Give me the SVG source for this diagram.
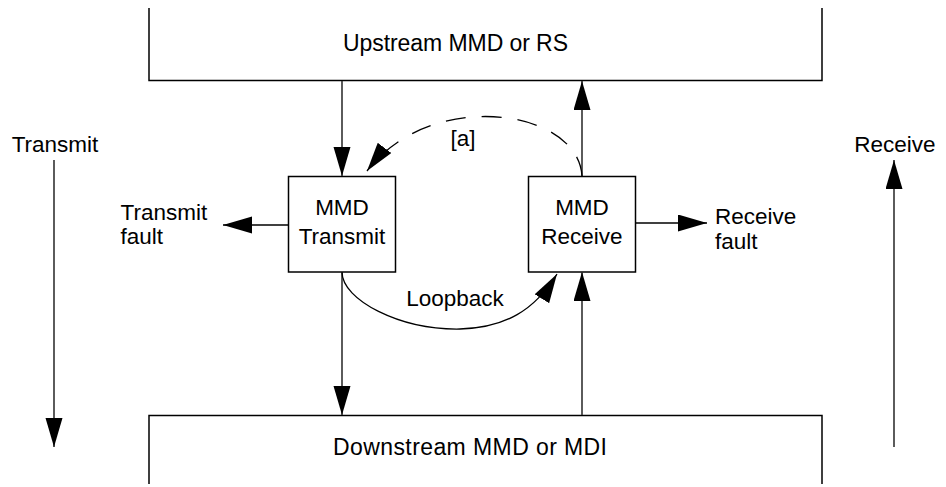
<svg xmlns="http://www.w3.org/2000/svg" width="946" height="487" viewBox="0 0 946 487">
<style>
  text { font-family: "Liberation Sans", Arial, Helvetica, sans-serif; font-size: 22.5px; fill: #000; }
  .big { font-size: 23px; }
  .box { fill: #fff; stroke: #000; stroke-width: 1.5; }
  .open { fill: none; stroke: #000; stroke-width: 1.5; }
  .conn { fill: none; stroke: #333; stroke-width: 1.6; }
  .thin { fill: none; stroke: #000; stroke-width: 1.3; }
  .dash { fill: none; stroke: #000; stroke-width: 1.3; stroke-dasharray: 20 16; }
</style>
<defs>
  <marker id="arr" markerUnits="userSpaceOnUse" markerWidth="30" markerHeight="18" refX="29" refY="8.5" orient="auto">
    <path d="M0,0 L29,8.5 L0,17 z" fill="#000"/>
  </marker>
</defs>

<g id="upstream">
  <path class="open" d="M149,8 L149,80.5 L822,80.5 L822,8"/>
  <text class="big" x="343" y="51" textLength="225">Upstream MMD or RS</text>
</g>

<g id="downstream">
  <path class="open" d="M149,484 L149,415.5 L822,415.5 L822,484"/>
  <text class="big" x="333" y="455" textLength="274">Downstream MMD or MDI</text>
</g>

<g id="mmd-transmit">
  <rect class="box" x="288.5" y="176.5" width="107" height="95.5"/>
  <text x="342" y="215" text-anchor="middle">MMD</text>
  <text x="342" y="243.5" text-anchor="middle">Transmit</text>
</g>

<g id="mmd-receive">
  <rect class="box" x="528.5" y="176.5" width="107" height="95.5"/>
  <text x="582" y="215" text-anchor="middle">MMD</text>
  <text x="582" y="243.5" text-anchor="middle">Receive</text>
</g>

<g id="transmit-fault">
  <text x="120.5" y="219.5">Transmit</text>
  <text x="120.5" y="244">fault</text>
</g>

<g id="receive-fault">
  <text x="715" y="224">Receive</text>
  <text x="715" y="248.5">fault</text>
</g>

<g id="transmit-direction">
  <text x="55" y="152" text-anchor="middle">Transmit</text>
</g>

<g id="receive-direction">
  <text x="895" y="152" text-anchor="middle">Receive</text>
</g>

<g id="loopback-label">
  <text x="455" y="305.5" text-anchor="middle">Loopback</text>
</g>

<g id="a-label">
  <text x="463" y="146" text-anchor="middle">[a]</text>
</g>

<g id="connectors">
  <path class="conn" d="M342,81 L342,176" marker-end="url(#arr)"/>
  <path class="conn" d="M582,176 L582,81" marker-end="url(#arr)"/>
  <path class="thin" d="M288,225 L223,225" marker-end="url(#arr)"/>
  <path class="thin" d="M636,223 L707,223" marker-end="url(#arr)"/>
  <path class="conn" d="M342,272 L342,415" marker-end="url(#arr)"/>
  <path class="conn" d="M582,415 L582,272" marker-end="url(#arr)"/>
  <path class="thin" d="M342,272 C342,300 400,330 460,329 C505,328 535,310 557,274" marker-end="url(#arr)"/>
  <path class="dash" d="M582,176 C578,108 430,88 367,171" marker-end="url(#arr)"/>
  <path class="conn" d="M54,160 L54,447" marker-end="url(#arr)"/>
  <path class="conn" d="M894,447 L894,160" marker-end="url(#arr)"/>
</g>
</svg>
